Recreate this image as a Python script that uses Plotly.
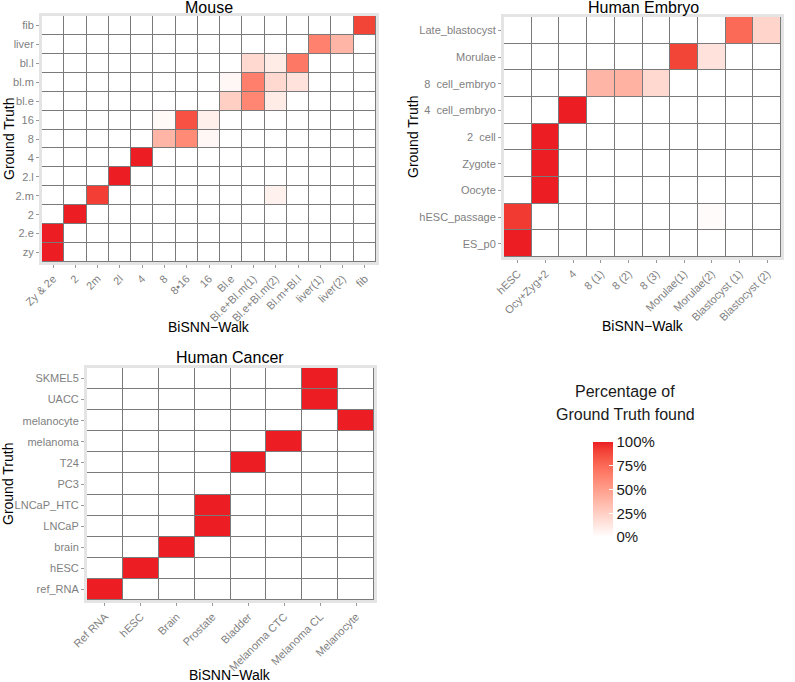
import plotly.graph_objects as go

# ---------------- data ----------------
mouse_cols = ['Zy & 2e', '2', '2m', '2l', '4', '8', '8\u202216', '16', 'Bl.e',
              'Bl.e+Bl.m(1)', 'Bl.e+Bl.m(2)', 'Bl.m+Bl.l', 'liver(1)', 'liver(2)', 'fib']
mouse_rows = ['zy', '2.e', '2', '2.m', '2.l', '4', '8', '16', 'bl.e', 'bl.m', 'bl.l', 'liver', 'fib']
mouse_values = [
    [1.00, 0, 0, 0, 0, 0, 0, 0, 0, 0, 0, 0, 0, 0, 0],            # zy
    [1.00, 0, 0, 0, 0, 0, 0, 0, 0, 0, 0, 0, 0, 0, 0],            # 2.e
    [0, 1.00, 0, 0, 0, 0, 0, 0, 0, 0, 0, 0, 0, 0, 0],            # 2
    [0, 0, 0.92, 0, 0, 0, 0, 0, 0, 0, 0.07, 0, 0, 0, 0],         # 2.m
    [0, 0, 0, 1.00, 0, 0, 0, 0, 0, 0, 0, 0, 0, 0, 0],            # 2.l
    [0, 0, 0, 0, 1.00, 0, 0, 0, 0, 0, 0, 0, 0, 0, 0],            # 4
    [0, 0, 0, 0, 0, 0.38, 0.60, 0.04, 0, 0, 0, 0, 0, 0, 0],      # 8
    [0, 0, 0, 0, 0, 0.03, 0.85, 0.08, 0, 0, 0, 0, 0, 0, 0],      # 16
    [0, 0, 0, 0, 0, 0, 0, 0, 0.25, 0.62, 0.10, 0, 0, 0, 0],      # bl.e
    [0, 0, 0, 0, 0, 0, 0, 0, 0.04, 0.65, 0.20, 0.15, 0, 0, 0],   # bl.m
    [0, 0, 0, 0, 0, 0, 0, 0, 0, 0.20, 0.10, 0.68, 0, 0, 0],      # bl.l
    [0, 0, 0, 0, 0, 0, 0, 0, 0, 0, 0, 0, 0.64, 0.38, 0],         # liver
    [0, 0, 0, 0, 0, 0, 0, 0, 0, 0, 0, 0, 0, 0, 0.90],            # fib
]

embryo_cols = ['hESC', 'Ocy+Zyg+2', '4', '8 (1)', '8 (2)', '8 (3)', 'Morulae(1)', 'Morulae(2)',
               'Blastocyst (1)', 'Blastocyst (2)']
embryo_rows = ['ES_p0', 'hESC_passage', 'Oocyte', 'Zygote', '2  cell', '4  cell_embryo',
               '8  cell_embryo', 'Morulae', 'Late_blastocyst']
embryo_values = [
    [1.00, 0, 0, 0, 0, 0, 0, 0, 0, 0],            # ES_p0
    [0.93, 0, 0, 0, 0, 0, 0, 0.02, 0, 0],         # hESC_passage
    [0, 1.00, 0, 0, 0, 0, 0, 0, 0, 0],            # Oocyte
    [0, 1.00, 0, 0, 0, 0, 0, 0, 0, 0],            # Zygote
    [0, 1.00, 0, 0, 0, 0, 0, 0, 0, 0],            # 2 cell
    [0, 0, 1.00, 0, 0, 0, 0, 0, 0, 0],            # 4 cell
    [0, 0, 0, 0.38, 0.40, 0.20, 0, 0, 0, 0],      # 8 cell
    [0, 0, 0, 0, 0, 0, 0.90, 0.15, 0, 0],         # Morulae
    [0, 0, 0, 0, 0, 0, 0, 0, 0.75, 0.22],         # Late_blastocyst
]

cancer_cols = ['Ref RNA', 'hESC', 'Brain', 'Prostate', 'Bladder', 'Melanoma CTC', 'Melanoma CL', 'Melanocyte']
cancer_rows = ['ref_RNA', 'hESC', 'brain', 'LNCaP', 'LNCaP_HTC', 'PC3', 'T24', 'melanoma',
               'melanocyte', 'UACC', 'SKMEL5']
cancer_values = [
    [1, 0, 0, 0, 0, 0, 0, 0],  # ref_RNA
    [0, 1, 0, 0, 0, 0, 0, 0],  # hESC
    [0, 0, 1, 0, 0, 0, 0, 0],  # brain
    [0, 0, 0, 1, 0, 0, 0, 0],  # LNCaP
    [0, 0, 0, 1, 0, 0, 0, 0],  # LNCaP_HTC
    [0, 0, 0, 0, 0, 0, 0, 0],  # PC3
    [0, 0, 0, 0, 1, 0, 0, 0],  # T24
    [0, 0, 0, 0, 0, 1, 0, 0],  # melanoma
    [0, 0, 0, 0, 0, 0, 0, 1],  # melanocyte
    [0, 0, 0, 0, 0, 0, 1, 0],  # UACC
    [0, 0, 0, 0, 0, 0, 1, 0],  # SKMEL5
]

legend_ticks = [0, 0.25, 0.5, 0.75, 1.0]
legend_labels = ['0%', '25%', '50%', '75%', '100%']

# ---------------- colour scale (Lab interpolation, like ggplot) ----------------
def _lin(c):
    c = c / 255.0
    return c / 12.92 if c <= 0.04045 else ((c + 0.055) / 1.055) ** 2.4

def _delin(c):
    c = 12.92 * c if c <= 0.0031308 else 1.055 * c ** (1 / 2.4) - 0.055
    return max(0, min(255, round(c * 255)))

WX, WY, WZ = 0.95047, 1.0, 1.08883

def _f(t):
    return t ** (1 / 3) if t > 0.008856 else 7.787 * t + 16 / 116

def _finv(t):
    return t ** 3 if t ** 3 > 0.008856 else (t - 16 / 116) / 7.787

def rgb2lab(rgb):
    r, g, b = (_lin(v) for v in rgb)
    x = 0.4124 * r + 0.3576 * g + 0.1805 * b
    y = 0.2126 * r + 0.7152 * g + 0.0722 * b
    z = 0.0193 * r + 0.1192 * g + 0.9505 * b
    fx, fy, fz = _f(x / WX), _f(y / WY), _f(z / WZ)
    return (116 * fy - 16, 500 * (fx - fy), 200 * (fy - fz))

def lab2rgb(lab):
    L, a, bb = lab
    fy = (L + 16) / 116
    fx = fy + a / 500
    fz = fy - bb / 200
    x, y, z = WX * _finv(fx), WY * _finv(fy), WZ * _finv(fz)
    r = 3.2406 * x - 1.5372 * y - 0.4986 * z
    g = -0.9689 * x + 1.8758 * y + 0.0415 * z
    b = 0.0557 * x - 0.2040 * y + 1.0570 * z
    return tuple(_delin(max(0, v)) for v in (r, g, b))

low, high = rgb2lab((255, 255, 255)), rgb2lab((236, 30, 36))
colorscale = []
N = 12
for i in range(N + 1):
    t = i / N
    lab = tuple(low[k] + (high[k] - low[k]) * t for k in range(3))
    r, g, b = lab2rgb(lab)
    colorscale.append([t, f'rgb({r},{g},{b})'])

# ---------------- figure ----------------
W, H = 795, 682
FONT = 'Liberation Sans, Arial, sans-serif'
fig = go.Figure()

def px_x(v):
    return v / W

def px_y(v):
    return 1 - v / H

panels = [
    (mouse_cols, mouse_rows, mouse_values, 'x', 'y', (42, 376), (16, 262)),
    (embryo_cols, embryo_rows, embryo_values, 'x2', 'y2', (504, 781), (17, 257)),
    (cancer_cols, cancer_rows, cancer_values, 'x3', 'y3', (87, 374), (368, 600)),
]

for cols, rows, vals, xa, ya, (x0, x1), (y0, y1) in panels:
    fig.add_trace(go.Heatmap(
        x=cols, y=rows, z=vals, xaxis=xa, yaxis=ya, coloraxis='coloraxis',
        xgap=1, ygap=1, hoverongaps=False,
    ))
    axis_common = dict(
        type='category', showgrid=False, zeroline=False, automargin=False,
        showline=True, mirror=True, linecolor='#E4E4E4', linewidth=3,
        ticks='outside', ticklen=3, tickwidth=1, tickcolor='#9a9a9a',
        tickfont=dict(family=FONT, size=11, color='#7F7F7F'),
        fixedrange=True,
    )
    xkey = 'xaxis' if xa == 'x' else 'xaxis' + xa[1:]
    ykey = 'yaxis' if ya == 'y' else 'yaxis' + ya[1:]
    fig.update_layout(**{
        xkey: dict(axis_common, domain=[px_x(x0), px_x(x1)], anchor=ya, tickangle=-45,
                   categoryorder='array', categoryarray=cols),
        ykey: dict(axis_common, domain=[px_y(y1), px_y(y0)], anchor=xa,
                   categoryorder='array', categoryarray=rows),
    })

annotations = []
def ann(text, x, y, size, color='#000000', angle=0):
    annotations.append(dict(text=text, x=px_x(x), y=px_y(y), xref='paper', yref='paper',
                            xanchor='center', yanchor='middle', showarrow=False,
                            textangle=angle, font=dict(family=FONT, size=size, color=color)))

ann('Mouse', 209, 8, 16)
ann('Human Embryo', 643, 8, 16)
ann('Human Cancer', 230, 357, 16)
ann('BiSNN\u2212Walk', 209, 327, 14)
ann('BiSNN\u2212Walk', 643, 326, 14)
ann('BiSNN\u2212Walk', 230, 675, 14)
ann('Ground Truth', 9, 139, 14, angle=-90)
ann('Ground Truth', 413, 137, 14, angle=-90)
ann('Ground Truth', 8, 484, 14, angle=-90)
ann('Percentage of', 625, 391, 16, color='#1a1a1a')
ann('Ground Truth found', 625, 414, 16, color='#1a1a1a')

fig.update_layout(
    template='none',
    width=W, height=H,
    margin=dict(l=0, r=0, t=0, b=0, autoexpand=False),
    paper_bgcolor='white', plot_bgcolor='#7a7a7a',
    annotations=annotations,
    coloraxis=dict(
        colorscale=colorscale, cmin=0, cmax=1,
        colorbar=dict(
            x=px_x(593), xanchor='left', xpad=0,
            y=px_y(489.5), yanchor='middle', ypad=0,
            len=95 / H, lenmode='fraction', thickness=20, thicknessmode='pixels',
            outlinewidth=0, tickmode='array', tickvals=legend_ticks, ticktext=legend_labels,
            ticks='inside', ticklen=4, tickcolor='white',
            tickfont=dict(family=FONT, size=15, color='#1a1a1a'),
        ),
    ),
    showlegend=False,
)

fig.write_html('out.html', config={'displayModeBar': False},
               post_script='document.body.style.margin="0px";')
